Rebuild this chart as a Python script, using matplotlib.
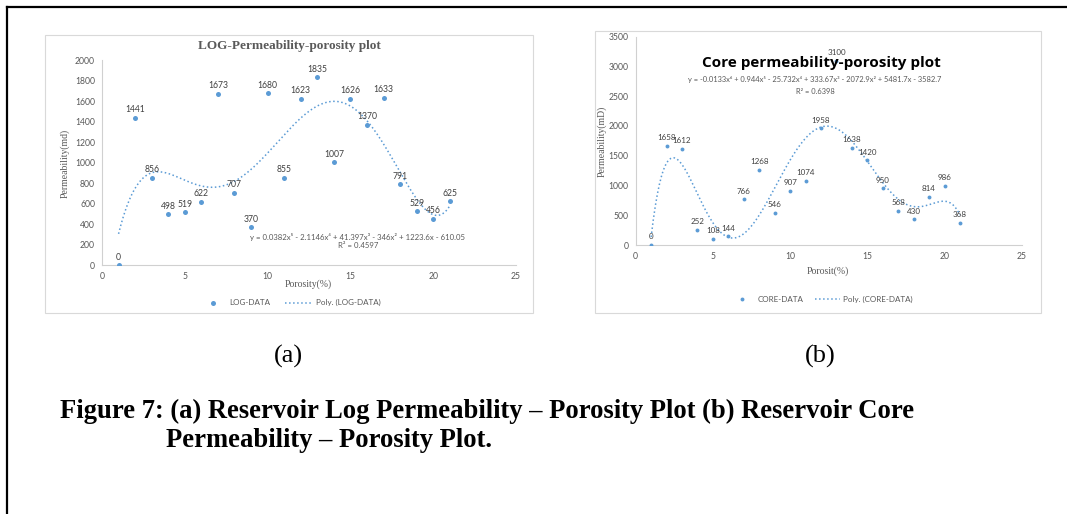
import matplotlib
matplotlib.use('Agg')
import matplotlib.pyplot as plt
import numpy as np
from matplotlib.lines import Line2D
from matplotlib.patches import Rectangle

# data
porosity = np.arange(1, 22)
log_perm = [0, 1441, 856, 498, 519, 622, 1673, 707, 370, 1680, 855,
            1623, 1835, 1007, 1626, 1370, 1633, 791, 529, 456, 625]
core_perm = [0, 1658, 1612, 252, 108, 144, 766, 1268, 546, 907, 1074,
             1958, 3100, 1638, 1420, 950, 568, 430, 814, 986, 368]

log_eq = "y = 0.0382x⁵ - 2.1146x⁴ + 41.397x³ - 346x² + 1223.6x - 610.05"
log_r2 = "R² = 0.4597"
core_eq = "y = -0.0133x⁶ + 0.944x⁵ - 25.732x⁴ + 333.67x³ - 2072.9x² + 5481.7x - 3582.7"
core_r2 = "R² = 0.6398"

W, H = 1067, 514
BLUE = '#5B9BD5'
GREY = '#595959'
SANS = ['Lato', 'DejaVu Sans']
SERIF = ['Liberation Serif', 'DejaVu Serif']

fig = plt.figure(figsize=(W / 100, H / 100), dpi=100)


def fx(x):
    return x / W


def fy(y):
    return 1 - y / H


def ftext(x, y, s, **kw):
    fig.text(fx(x), fy(y), s, **kw)


def panel(l, t, r, b, data, deg, ymax, ystep, ms, label_off, label_fs):
    ax = fig.add_axes([fx(l), fy(b), fx(r) - fx(l), (b - t) / H])
    ax.plot(porosity, data, 'o', color=BLUE, ms=ms, mec='none', zorder=3)
    coef = np.polyfit(porosity, data, deg)
    xs = np.linspace(porosity[0], porosity[-1], 300)
    ax.plot(xs, np.polyval(coef, xs), ':', color=BLUE, lw=1.1, zorder=2)
    for x, v in zip(porosity, data):
        ax.annotate(str(v), (x, v), xytext=(0, label_off), textcoords='offset points',
                    ha='center', va='bottom', fontsize=label_fs, color='#404040',
                    family=SANS, zorder=4)
    ax.set_xlim(0, 25)
    ax.set_ylim(0, ymax)
    ax.set_xticks(range(0, 26, 5))
    ax.set_yticks(range(0, ymax + 1, ystep))
    ax.tick_params(length=0, labelsize=6.2, labelcolor=GREY, pad=5)
    for lab in ax.get_xticklabels() + ax.get_yticklabels():
        lab.set_family(SANS)
    for s in ['top', 'right']:
        ax.spines[s].set_visible(False)
    for s in ['left', 'bottom']:
        ax.spines[s].set_color('#D0D0D0')
        ax.spines[s].set_linewidth(0.8)
    ax.patch.set_alpha(0)
    return ax


# chart frames
fig.patches.append(Rectangle((fx(45), fy(313)), fx(533) - fx(45), (313 - 35) / H,
                             transform=fig.transFigure, fill=False, ec='#D9D9D9', lw=0.8))
fig.patches.append(Rectangle((fx(595), fy(313)), fx(1041) - fx(595), (313 - 31) / H,
                             transform=fig.transFigure, fill=False, ec='#D9D9D9', lw=0.8))

# (a) log panel
ax1 = panel(102, 60.3, 516, 265.3, log_perm, 5, 2000, 200, 3.6, 2.5, 6.2)
ftext(289, 46, "LOG-Permeability-porosity plot", ha='center', va='center',
      fontsize=9.5, weight='bold', color=GREY, family=SERIF)
ftext(308, 284, "Porosity(%)", ha='center', va='center', fontsize=7, color=GREY, family=SERIF)
ftext(65, 163, "Permeability(md)", ha='center', va='center', rotation=90,
      fontsize=7, color=GREY, family=SERIF)
ftext(358, 237, log_eq, ha='center', va='center', fontsize=5.6, color=GREY, family=SANS)
ftext(358, 245.5, log_r2, ha='center', va='center', fontsize=5.6, color=GREY, family=SANS)

# (b) core panel
ax2 = panel(635.7, 36.7, 1021.7, 245, core_perm, 6, 3500, 500, 2.8, 3.5, 5.8)
ftext(821, 63, "Core permeability-porosity plot", ha='center', va='center',
      fontsize=11, weight='bold', color='black', family=['Open Sans', 'DejaVu Sans'], zorder=5)
ftext(815, 79.5, core_eq, ha='center', va='center', fontsize=5.4, color=GREY, family=SANS)
ftext(815, 91, core_r2, ha='center', va='center', fontsize=5.4, color=GREY, family=SANS)
ftext(828, 271, "Porosit(%)", ha='center', va='center', fontsize=7, color=GREY, family=SERIF)
ftext(602, 141, "Permeability(mD)", ha='center', va='center', rotation=90,
      fontsize=7, color=GREY, family=SERIF)

# legends drawn as figure artists
def legend(y, mx, tx1, lx0, lx1, tx2, name, ms):
    fig.add_artist(Line2D([fx(mx)], [fy(y)], marker='o', color=BLUE, ms=ms, mec='none',
                          transform=fig.transFigure))
    ftext(tx1, y, name, ha='left', va='center', fontsize=5.8, color=GREY, family=SANS)
    fig.add_artist(Line2D([fx(lx0), fx(lx1)], [fy(y), fy(y)], ls=':', color=BLUE, lw=1.1,
                          transform=fig.transFigure))
    ftext(tx2, y, "Poly. (%s)" % name, ha='left', va='center', fontsize=5.8,
          color=GREY, family=SANS)


legend(302.5, 213, 229, 285, 313, 316, "LOG-DATA", 3.6)
legend(299, 742, 758, 815, 840, 843, "CORE-DATA", 2.8)

# captions
ftext(288, 356, "(a)", ha='center', va='center', fontsize=19, family=SERIF)
ftext(820, 356, "(b)", ha='center', va='center', fontsize=19, family=SERIF)
ftext(60, 418, "Figure 7: (a) Reservoir Log Permeability – Porosity Plot (b) Reservoir Core",
      ha='left', va='baseline', fontsize=19.2, weight='bold', family=SERIF)
ftext(166, 447, "Permeability – Porosity Plot.", ha='left', va='baseline',
      fontsize=19.2, weight='bold', family=SERIF)

# page border (left and top only)
fig.add_artist(Line2D([fx(7), fx(7)], [0, fy(7)], color='black', lw=1.6,
                      transform=fig.transFigure))
fig.add_artist(Line2D([fx(7), 1], [fy(7), fy(7)], color='black', lw=1.6,
                      transform=fig.transFigure))

fig.savefig('out.png', dpi=100)
